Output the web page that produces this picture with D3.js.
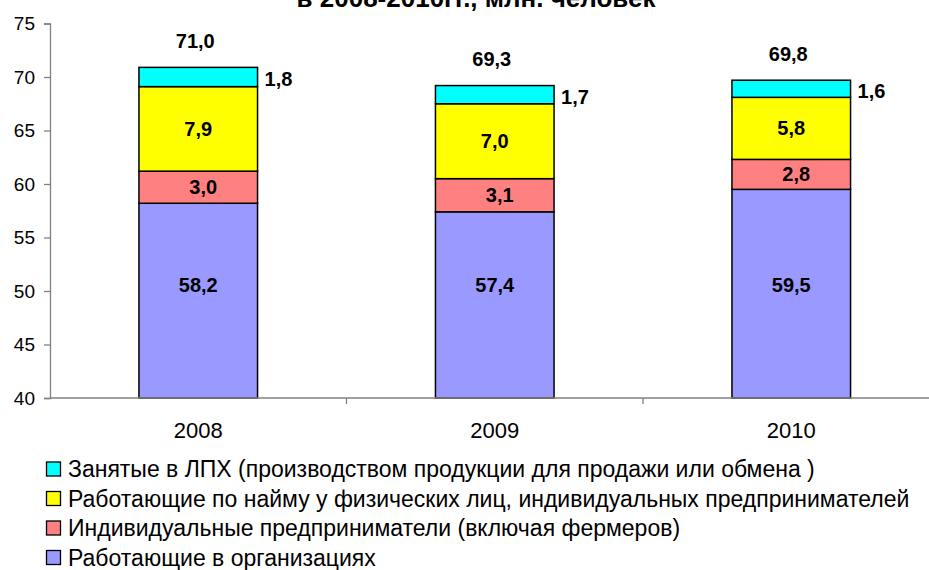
<!DOCTYPE html>
<html>
<head>
<meta charset="utf-8">
<script src="https://cdn.jsdelivr.net/npm/d3@7"></script>
<style>
  body { margin: 0; background: #fff; }
  svg { display: block; font-family: "Liberation Sans", Arial, sans-serif; }
</style>
</head>
<body>
<svg id="chart" width="929" height="570"></svg>
<script>
// data
const years = ["2008", "2009", "2010"];
const seriesNames = [
  "Работающие в организациях",
  "Индивидуальные предприниматели (включая фермеров)",
  "Работающие по найму у физических лиц, индивидуальных предпринимателей",
  "Занятые в ЛПХ (производством продукции для продажи или обмена )"
];
const orgValues = [58.2, 57.4, 59.5];
const ipValues = [3.0, 3.1, 2.8];
const hiredValues = [7.9, 7.0, 5.8];
const lphValues = [1.8, 1.7, 1.6];
const totals = [71.0, 69.3, 69.8];
const yTicks = [40, 45, 50, 55, 60, 65, 70, 75];
const titleText = "в 2008-2010гг., млн. человек";

const colors = ["#9999ff", "#ff8080", "#ffff00", "#00ffff"];
const keys = ["org", "ip", "hired", "lph"];

const table = years.map((y, i) => ({
  year: y, org: orgValues[i], ip: ipValues[i], hired: hiredValues[i], lph: lphValues[i], total: totals[i]
}));

const ru = d3.formatLocale({ decimal: ",", thousands: " ", grouping: [3], currency: ["", ""] });
const fmt = ru.format(".1f");

const svg = d3.select("#chart");
const plotLeft = 50, plotTop = 23.5, plotBottom = 398;

const x = d3.scaleBand()
  .domain(years)
  .range([plotLeft, plotLeft + 3 * 296.5])
  .paddingInner(0.6)
  .paddingOuter(0.3);

const y = d3.scaleLinear().domain([40, 75]).range([plotBottom, plotTop]);

// title - only its lower line, cut at the top edge as in the source picture
svg.append("text")
  .attr("x", 476).attr("y", 7)
  .attr("text-anchor", "middle")
  .attr("font-size", 26).attr("font-weight", "bold")
  .text(titleText);

// stacked bars
const stacked = d3.stack().keys(keys)(table);

const layers = svg.append("g")
  .selectAll("g")
  .data(stacked)
  .join("g")
  .attr("fill", (d, i) => colors[i]);

layers.selectAll("rect")
  .data(d => d)
  .join("rect")
  .attr("x", d => x(d.data.year))
  .attr("width", x.bandwidth())
  .attr("y", d => y(d[1]))
  .attr("height", d => y(Math.max(d[0], 40)) - y(d[1]))
  .attr("stroke", "#000")
  .attr("stroke-width", 1.5);

// y axis
const yAxis = svg.append("g")
  .attr("transform", `translate(${plotLeft},0)`)
  .call(d3.axisLeft(y).tickValues(yTicks).tickSize(6).tickPadding(9));
yAxis.select(".domain").attr("stroke", "#808080").attr("stroke-width", 1.3);
yAxis.selectAll(".tick line").attr("stroke", "#808080").attr("stroke-width", 1.3);
yAxis.selectAll(".tick text")
  .attr("font-size", 19).attr("fill", "#000")
  .attr("font-family", "Liberation Sans, Arial, sans-serif");

// x axis with ticks between categories
const xAxis = svg.append("g").attr("transform", `translate(0,${plotBottom})`);
xAxis.append("line")
  .attr("x1", plotLeft).attr("x2", 929)
  .attr("stroke", "#808080").attr("stroke-width", 1.3);
xAxis.selectAll("line.tk")
  .data(years)
  .join("line")
  .attr("class", "tk")
  .attr("x1", d => x(d) + x.bandwidth() / 2 + x.step() / 2)
  .attr("x2", d => x(d) + x.bandwidth() / 2 + x.step() / 2)
  .attr("y1", 0).attr("y2", 6)
  .attr("stroke", "#808080").attr("stroke-width", 1.3);
xAxis.selectAll("text")
  .data(years)
  .join("text")
  .attr("x", d => x(d) + x.bandwidth() / 2)
  .attr("y", 40)
  .attr("text-anchor", "middle")
  .attr("font-size", 22)
  .text(d => d);

// labels inside segments
const labelG = svg.append("g")
  .attr("font-size", 20).attr("font-weight", "bold")
  .attr("text-anchor", "middle");

// organisations: clipped bar, label sits low
labelG.selectAll("text.org")
  .data(stacked[0])
  .join("text")
  .attr("class", "org")
  .attr("x", d => x(d.data.year) + x.bandwidth() / 2)
  .attr("y", y(50.6))
  .attr("dy", "0.35em")
  .text(d => fmt(d.data.org));

[1, 2].forEach(si => {
  labelG.selectAll("text.s" + si)
    .data(stacked[si])
    .join("text")
    .attr("class", "s" + si)
    .attr("x", d => x(d.data.year) + x.bandwidth() / 2 + (si === 1 ? 5 : 0))
    .attr("y", d => (y(d[0]) + y(d[1])) / 2)
    .attr("dy", "0.35em")
    .text(d => fmt(d[1] - d[0]));
});

// LPH labels to the right of bar
labelG.selectAll("text.lph")
  .data(stacked[3])
  .join("text")
  .attr("class", "lph")
  .attr("text-anchor", "start")
  .attr("x", d => x(d.data.year) + x.bandwidth() + 7)
  .attr("y", d => (y(d[0]) + y(d[1])) / 2 + 2)
  .attr("dy", "0.35em")
  .text(d => fmt(d.data.lph));

// totals above bars
labelG.selectAll("text.total")
  .data(table)
  .join("text")
  .attr("class", "total")
  .attr("x", d => x(d.year) + x.bandwidth() / 2 - 3)
  .attr("y", d => y(d.total) - 25)
  .attr("dy", "0.35em")
  .text(d => fmt(d.total));

// legend
const legendOrder = [3, 2, 1, 0];
const legend = svg.append("g").attr("transform", "translate(46,469)");
const item = legend.selectAll("g")
  .data(legendOrder)
  .join("g")
  .attr("transform", (d, i) => `translate(0,${i * 29.5})`);
item.append("rect")
  .attr("x", 0.5).attr("y", -7)
  .attr("width", 14).attr("height", 14)
  .attr("fill", d => colors[d])
  .attr("stroke", "#000").attr("stroke-width", 1.3);
item.append("text")
  .attr("x", 22)
  .attr("dy", "0.35em")
  .attr("font-size", 23)
  .attr("fill", "#000")
  .text(d => seriesNames[d]);
</script>
</body>
</html>
